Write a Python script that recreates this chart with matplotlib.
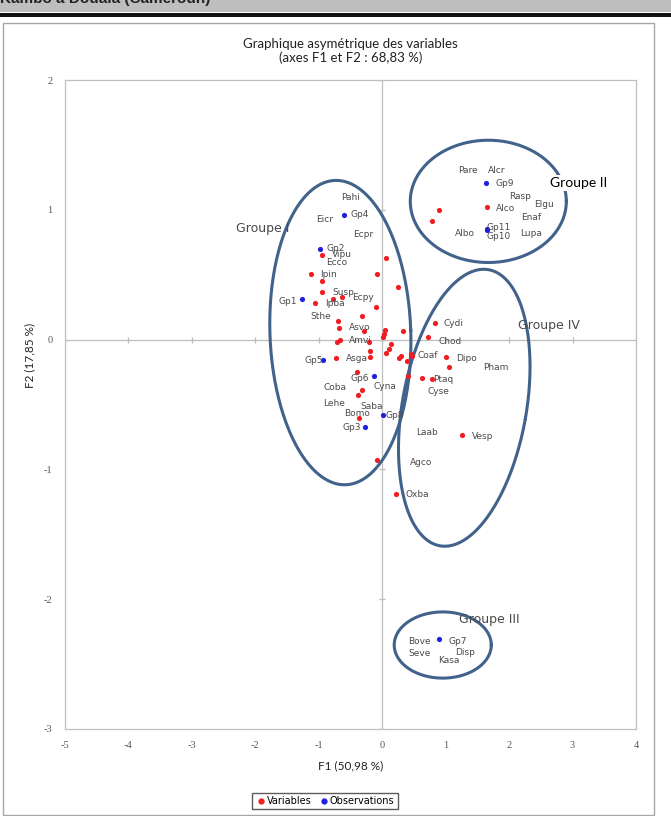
import numpy as np
import matplotlib
matplotlib.use("Agg")
import matplotlib.pyplot as plt
from matplotlib.lines import Line2D
from matplotlib.patches import Rectangle

plt.rcParams["axes.unicode_minus"] = False

# variables (red points), F1 / F2 coordinates
var_x = [-0.946, 0.052, -1.120, -0.090, -0.951, 0.241, -0.946, -0.768, -0.631, -1.052,
         -0.099, -0.311, -0.699, -0.683, -0.289, 0.036, 0.326, 0.021, 0.011, 0.721,
         0.836, -0.662, -0.710, -0.210, 0.142, 0.110, -0.189, 0.063, -0.189, -0.730,
         0.300, 0.257, 0.457, 0.468, 0.394, 1.009, 1.052, -0.405, 0.631, 0.789,
         -0.326, -0.383, -0.368, -0.079, 0.210, 1.262, 0.899, 0.778, 1.651, 0.405]
var_y = [0.654, 0.625, 0.504, 0.509, 0.453, 0.407, 0.370, 0.311, 0.329, 0.283,
         0.255, 0.183, 0.141, 0.090, 0.069, 0.077, 0.064, 0.044, 0.018, 0.018,
         0.129, -0.005, -0.021, -0.021, -0.031, -0.072, -0.090, -0.103, -0.133, -0.139,
         -0.129, -0.141, -0.108, -0.129, -0.162, -0.133, -0.214, -0.252, -0.296, -0.301,
         -0.391, -0.430, -0.604, -0.926, -1.188, -0.735, 1.001, 0.913, 1.024, -0.283]

# observations (blue points)
obs_x = [-0.604, -0.973, -1.267, -0.931, -0.126, 0.016, -0.268, 1.636, 1.645, 1.645, 0.888]
obs_y = [0.957, 0.700, 0.309, -0.157, -0.278, -0.584, -0.671, 1.209, 0.849, 0.841, -2.307]

var_labels = ["Pahi", "Eicr", "Ecpr", "Vipu", "Ecco", "Ipin", "Susp", "Ecpy", "Ipba", "Sthe",
              "Asvo", "Amvi", "Asga", "Coba", "Cyna", "Lehe", "Saba", "Bomo", "Cydi", "Chod",
              "Coaf", "Dipo", "Pham", "Ptaq", "Cyse", "Laab", "Vesp", "Agco", "Oxba", "Pare",
              "Alcr", "Rasp", "Elgu", "Alco", "Enaf", "Albo", "Lupa", "Bove", "Seve", "Kasa",
              "Disp"]
var_lab_x = [-0.505, -0.904, -0.300, -0.636, -0.721, -0.841, -0.610, -0.300, -0.752, -0.970,
             -0.352, -0.352, -0.405, -0.752, 0.047, -0.762, -0.174, -0.399, 1.131, 1.073,
             0.721, 1.325, 1.798, 0.957, 0.888, 0.699, 1.577, 0.615, 0.547, 1.352,
             1.809, 2.177, 2.550, 1.940, 2.350, 1.309, 2.339, 0.588, 0.595, 1.052,
             1.298]
var_lab_y = [1.096, 0.926, 0.813, 0.654, 0.596, 0.504, 0.360, 0.324, 0.275, 0.180,
             0.090, -0.005, -0.149, -0.370, -0.365, -0.496, -0.519, -0.566, 0.121, -0.013,
             -0.123, -0.144, -0.216, -0.306, -0.399, -0.712, -0.743, -0.947, -1.194, 1.304,
             1.304, 1.103, 1.039, 1.011, 0.939, 0.816, 0.816, -2.323, -2.417, -2.475,
             -2.410]

obs_labels = ["Gp4", "Gp2", "Gp1", "Gp5", "Gp6", "Gp8", "Gp3", "Gp9", "Gp11", "Gp10", "Gp7"]
obs_lab_x = [-0.352, -0.726, -1.487, -1.084, -0.347, 0.194, -0.473, 1.929, 1.834, 1.834, 1.183]
obs_lab_y = [0.967, 0.700, 0.293, -0.164, -0.303, -0.581, -0.674, 1.204, 0.862, 0.797, -2.328]

# hand-drawn group ellipses: centre, half-width (F1 units), half-height (F2 units), tilt in degrees
groups = ["Groupe I", "Groupe II", "Groupe IV", "Groupe III"]
group_cx = [-0.660, 1.672, 1.293, 0.954]
group_cy = [0.054, 1.065, -0.525, -2.353]
group_rx = [1.110, 1.230, 0.978, 0.765]
group_ry = [1.173, 0.471, 1.080, 0.255]
group_tilt = [2, 0, -10, 0]
group_lab_x = [-1.885, 3.091, 2.626, 1.688]
group_lab_y = [0.856, 1.204, 0.108, -2.160]

x_ticks = [-5, -4, -3, -2, -1, 0, 1, 2, 3, 4]
y_ticks = [-3, -2, -1, 0, 1, 2]

W, H = 671, 816
AX_L, AX_R, AX_T, AX_B = 65, 636, 80, 729

RED = "#F01E23"
BLUE = "#1F1FE0"
GRID = "#BFBFBF"
ELL = "#41628A"
TXT = "#4A4A4A"


def ellipse_xy(cx, cy, rx, ry, tilt):
    sx = (AX_R - AX_L) / (x_ticks[-1] - x_ticks[0])
    sy = (AX_B - AX_T) / (y_ticks[-1] - y_ticks[0])
    t = np.linspace(0, 2 * np.pi, 300)
    u = rx * sx * np.cos(t)
    v = ry * sy * np.sin(t)
    th = np.radians(tilt)
    px = u * np.cos(th) - v * np.sin(th)
    py = u * np.sin(th) + v * np.cos(th)
    return cx + px / sx, cy + py / sy


fig = plt.figure(figsize=(W / 100, H / 100), dpi=100)

# report header strip (its title is cut by the page edge)
fig.add_artist(Rectangle((0, 1 - 12 / H), 1, 12 / H, transform=fig.transFigure,
                         facecolor="#BEBEBE", edgecolor="none"))
fig.text(0.0, 1 + 1 / H, "Kambo à Douala (Cameroun)", fontsize=11, fontweight="bold",
         family="Liberation Sans", color="#222222", va="center", ha="left")
fig.add_artist(Rectangle((0, 1 - 17 / H), 1, 4 / H, transform=fig.transFigure,
                         facecolor="#111111", edgecolor="none"))
fig.add_artist(Rectangle((3 / W, 1 / H), 651 / W, (816 - 24) / H, transform=fig.transFigure,
                         facecolor="none", edgecolor="#A6A6A6", lw=1.0))

ax = fig.add_axes([AX_L / W, 1 - AX_B / H, (AX_R - AX_L) / W, (AX_B - AX_T) / H])
ax.set_xlim(x_ticks[0], x_ticks[-1])
ax.set_ylim(y_ticks[0], y_ticks[-1])
for s in ax.spines.values():
    s.set_color(GRID)
    s.set_linewidth(0.9)
ax.set_xticks(x_ticks)
ax.set_yticks(y_ticks)
ax.tick_params(length=0, labelsize=7.5, labelcolor="#555555", pad=9)
for lab in ax.get_xticklabels() + ax.get_yticklabels():
    lab.set_family("Liberation Serif")

ax.axhline(0, color=GRID, lw=0.9, zorder=1)
ax.axvline(0, color=GRID, lw=0.9, zorder=1)
ax.plot(x_ticks, [0] * len(x_ticks), ls="none", marker="|", ms=4, color=GRID, zorder=1)
ax.plot([0] * len(y_ticks), y_ticks, ls="none", marker="_", ms=4, color=GRID, zorder=1)

ax.scatter(var_x, var_y, s=14, color=RED, zorder=3, linewidths=0)
ax.scatter(obs_x, obs_y, s=14, color=BLUE, zorder=3, linewidths=0)

for lab, x, y in zip(var_labels, var_lab_x, var_lab_y):
    ax.text(x, y, lab, fontsize=6.5, color=TXT, ha="center", va="center", zorder=4)
for lab, x, y in zip(obs_labels, obs_lab_x, obs_lab_y):
    ax.text(x, y, lab, fontsize=6.5, color=TXT, ha="center", va="center", zorder=4)

for cx, cy, rx, ry, tl in zip(group_cx, group_cy, group_rx, group_ry, group_tilt):
    ex, ey = ellipse_xy(cx, cy, rx, ry, tl)
    ax.plot(ex, ey, color=ELL, lw=2.2, zorder=2)

for name, x, y in zip(groups, group_lab_x, group_lab_y):
    if name == "Groupe II":
        ax.text(x, y, name, fontsize=10, color="black", family="Lato", ha="center", va="center",
                zorder=5, bbox=dict(facecolor="white", edgecolor="none", pad=1.5))
    else:
        ax.text(x, y, name, fontsize=9, color=TXT, ha="center", va="center", zorder=5)

fig.text((AX_L + AX_R) / 2 / W, 1 - 44 / H, "Graphique asymétrique des variables",
         fontsize=9.5, family="Lato", color="#222222", ha="center", va="center")
fig.text((AX_L + AX_R) / 2 / W, 1 - 58 / H, "(axes F1 et F2 : 68,83 %)",
         fontsize=9.5, family="Lato", color="#222222", ha="center", va="center")
fig.text((AX_L + AX_R) / 2 / W, 1 - 766 / H, "F1 (50,98 %)", fontsize=8.5, family="Lato",
         color="#222222", ha="center", va="center")
fig.text(30 / W, 1 - 355 / H, "F2 (17,85 %)", fontsize=8.5, family="Lato", color="#222222",
         ha="center", va="center", rotation=90)

handles = [
    Line2D([], [], ls="none", marker="o", ms=3.5, color=RED, label="Variables"),
    Line2D([], [], ls="none", marker="o", ms=3.5, color=BLUE, label="Observations"),
]
leg = fig.legend(handles=handles, loc="center", bbox_to_anchor=(325 / W, 1 - 801 / H), ncol=2,
                 fontsize=7, frameon=True, fancybox=False, handletextpad=0.1, columnspacing=0.8,
                 handlelength=1.0, borderpad=0.35)
leg.get_frame().set_edgecolor("#333333")
leg.get_frame().set_linewidth(1.0)

fig.savefig("out.png", dpi=100)
